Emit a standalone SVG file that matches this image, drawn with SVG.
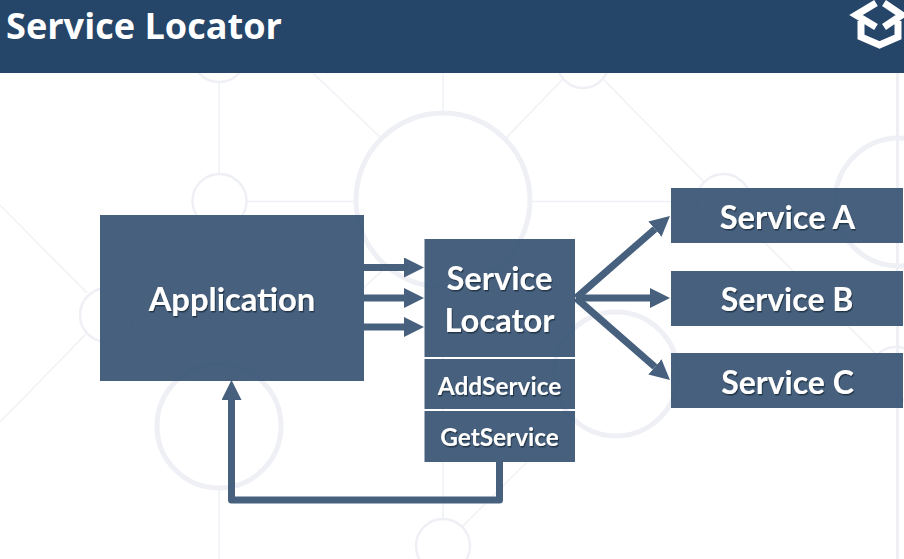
<svg xmlns="http://www.w3.org/2000/svg" width="904" height="559" viewBox="0 0 904 559">
<style>
.bg{fill:none;stroke:#eff0f5}
.c{stroke-width:5}
.t{stroke-width:2.500}
.l{stroke-width:1.500;stroke:#f0f1f5}
.box{fill:#385474;fill-opacity:.93}
.lab{font-family:"Lato","Open Sans",sans-serif;font-weight:700;fill:#fff;text-anchor:middle;filter:url(#sh)}
.big{font-size:32.700px}
.mid{font-size:32px}
.small{font-size:24.400px}
.con{fill:none;stroke:#46607e;stroke-width:7;stroke-linejoin:round;marker-end:url(#ah)}
</style>
<defs>
<filter id="sh" x="-5%" y="-10%" width="110%" height="125%"><feDropShadow dx="1" dy="1.500" stdDeviation=".7" flood-color="#1c2a3a" flood-opacity=".8"/></filter>
<marker id="ah" markerUnits="userSpaceOnUse" markerWidth="22" markerHeight="22" refX="0" refY="10" orient="auto"><path d="M0 0L20 10L0 20z" fill="#46607e"/></marker>
</defs>
<rect width="904" height="559" fill="#fff"/>
<g id="background" class="bg">
<g class="l">
<path d="M219 82V173M219 228V363M219 490V559M443 73V112M443 288V519M247 201.500H355M531 201.500H697"/>
<path d="M313 73L381 138M0 205L87 293M87 333L0 422M127 333L177 380M200 220L127 295M263 380L383 270M504 140L564 78M604 80L704 182M742 220L875 353M527 462L462 527"/>
</g>
<path d="M897.500 73V559" stroke-width="3"/>
<circle class="t" cx="219" cy="55" r="27"/>
<circle class="t" cx="219.500" cy="201" r="27"/>
<circle class="t" cx="107" cy="315" r="27"/>
<circle class="c" cx="219" cy="426" r="62"/>
<circle class="c" cx="443" cy="200" r="87"/>
<circle class="c" cx="616" cy="374" r="62"/>
<circle class="t" cx="583" cy="62" r="26"/>
<circle class="t" cx="723.500" cy="201" r="27"/>
<circle class="c" cx="899" cy="202" r="64"/>
<circle class="t" cx="896" cy="374" r="27"/>
<circle class="t" cx="443" cy="546" r="27"/>
</g>
<g id="header">
<rect width="904" height="73" fill="#254569"/>
<text x="6" y="39" font-family="'Open Sans',sans-serif" font-weight="700" font-size="35.500" fill="#fff" textLength="276" lengthAdjust="spacingAndGlyphs">Service Locator</text>
<g id="logo" fill="none" stroke="#fff" stroke-width="7">
<path d="M876 3L856 15L876 27M884 3L902 15L884 27M861 21V37L879.500 45L898 37V21"/>
</g>
</g>
<g id="connectors">
<path class="con" d="M364 267.500H404"/>
<path class="con" d="M364 298H404"/>
<path class="con" d="M364 327H404"/>
<path class="con" d="M576 298L654.900 229.100"/>
<path class="con" d="M576 298H650"/>
<path class="con" d="M576 298L654.900 366.900"/>
<path class="con" d="M499.500 462V500H231.500V400"/>
</g>
<g id="application"><rect class="box" x="100" y="215" width="264" height="166"/><text class="lab big" x="232" y="311">Application</text></g>
<g id="service-locator"><rect class="box" x="424.500" y="239" width="150.500" height="118"/><text class="lab big" x="499.500" y="290">Service</text><text class="lab big" x="499.500" y="332">Locator</text></g>
<g id="add-service"><rect class="box" x="424.500" y="359" width="150.500" height="50"/><text class="lab small" x="499.500" y="395">AddService</text></g>
<g id="get-service"><rect class="box" x="424.500" y="411" width="150.500" height="51"/><text class="lab small" x="499.500" y="446">GetService</text></g>
<g id="service-a"><rect class="box" x="671" y="188" width="232" height="55"/><text class="lab big" x="787.500" y="229">Service A</text></g>
<g id="service-b"><rect class="box" x="671" y="271" width="232" height="55"/><text class="lab mid" x="787" y="311">Service B</text></g>
<g id="service-c"><rect class="box" x="671" y="353" width="232" height="55"/><text class="lab mid" x="787.500" y="394">Service C</text></g>
</svg>
